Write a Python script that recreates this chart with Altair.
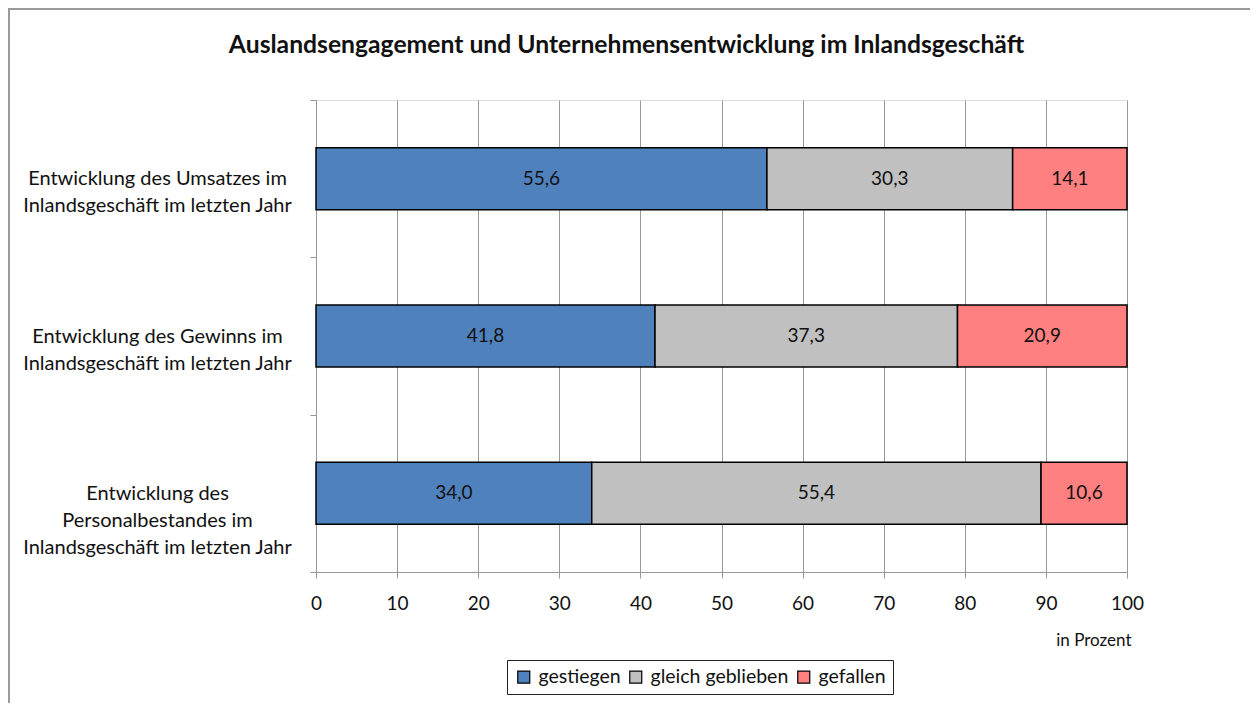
import altair as alt
import pandas as pd

categories = [
    "Entwicklung des Umsatzes im|Inlandsgeschäft im letzten Jahr",
    "Entwicklung des Gewinns im|Inlandsgeschäft im letzten Jahr",
    "Entwicklung des|Personalbestandes im|Inlandsgeschäft im letzten Jahr",
]
series = ["gestiegen", "gleich geblieben", "gefallen"]
gestiegen = [55.6, 41.8, 34.0]
gleich_geblieben = [30.3, 37.3, 55.4]
gefallen = [14.1, 20.9, 10.6]
colors = ["#4F81BD", "#C0C0C0", "#FF8080"]
x_ticks = [0, 10, 20, 30, 40, 50, 60, 70, 80, 90, 100]

rows = []
for i, c in enumerate(categories):
    for j, (s, vals) in enumerate(zip(series, [gestiegen, gleich_geblieben, gefallen])):
        rows.append({"cat": c, "serie": s, "order": j, "value": vals[i]})
df = pd.DataFrame(rows)

FONT = "Lato"
W, H = 811, 472

base = alt.Chart(df)

y_enc = alt.Y(
    "cat:N",
    sort=categories,
    title=None,
    scale=alt.Scale(paddingInner=0, paddingOuter=0),
    axis=alt.Axis(
        tickBand="extent",
        tickSize=6,
        tickColor="#999999",
        domainColor="#999999",
        labelAlign="center",
        labelPadding=153,
        labelExpr="split(datum.label, '|')",
        labelLineHeight=27,
        labelFontSize=20,
        labelColor="#111111",
        labelFont=FONT,
        labelLimit=0,
        grid=False,
    ),
)

bars = base.mark_bar(size=62, stroke="black", strokeWidth=1.5).encode(
    x=alt.X(
        "value:Q",
        stack="zero",
        scale=alt.Scale(domain=[0, 100], nice=False),
        axis=alt.Axis(
            values=x_ticks,
            title="in Prozent",
            titleFont=FONT,
            titleFontSize=17,
            titleFontWeight="normal",
            titleColor="#111111",
            titleX=W + 4,
            titleY=68,
            titleAlign="right",
            titleBaseline="middle",
            tickSize=6,
            tickColor="#999999",
            domainColor="#999999",
            gridColor="#999999",
            grid=True,
            labelPadding=16,
            labelFontSize=19,
            labelFont=FONT,
            labelColor="#111111",
            labelFlush=False,
        ),
    ),
    y=y_enc,
    color=alt.Color(
        "serie:N",
        sort=series,
        scale=alt.Scale(domain=series, range=colors),
        legend=alt.Legend(
            title=None,
            orient="none",
            direction="horizontal",
            legendX=191,
            legendY=560,
            symbolType="square",
            symbolSize=144,
            symbolStrokeColor="black",
            symbolStrokeWidth=1.2,
            labelFont=FONT,
            labelFontSize=19.5,
            labelColor="#111111",
            columnPadding=5,
            labelOffset=5,
            padding=7,
            strokeColor="#222222",
            fillColor="white",
        ),
    ),
    order=alt.Order("order:Q"),
)

text = base.transform_stack(
    stack="value", groupby=["cat"], as_=["x0", "x1"], sort=[alt.SortField("order")]
).transform_calculate(
    mid="(datum.x0 + datum.x1) / 2",
    lbl="replace(format(datum.value, '.1f'), '.', ',')",
).mark_text(font=FONT, fontSize=19, color="#111111").encode(
    x=alt.X("mid:Q"),
    y=alt.Y("cat:N", sort=categories),
    text="lbl:N",
)

border = alt.Chart(alt.Data(values=[{"a": 1}])).mark_rect(
    fill=None, stroke="#9a9a9a", strokeWidth=2
).encode(
    x=alt.value(-307), y=alt.value(-91), x2=alt.value(1300), y2=alt.value(900)
)

chart = alt.layer(border, bars, text).properties(
    width=W,
    height=H,
    padding={"left": 308, "top": 92, "right": 123, "bottom": 131},
    autosize=alt.AutoSizeParams(type="none"),
    title=alt.TitleParams(
        "Auslandsengagement und Unternehmensentwicklung im Inlandsgeschäft",
        font=FONT,
        fontSize=24.7,
        fontWeight="bold",
        color="#111111",
        anchor="middle",
        baseline="bottom",
        dx=-95,
        offset=-75,
    ),
).configure_view(stroke=None).configure(background="white")

chart.save("out.html", embed_options={"renderer": "svg", "actions": False})
